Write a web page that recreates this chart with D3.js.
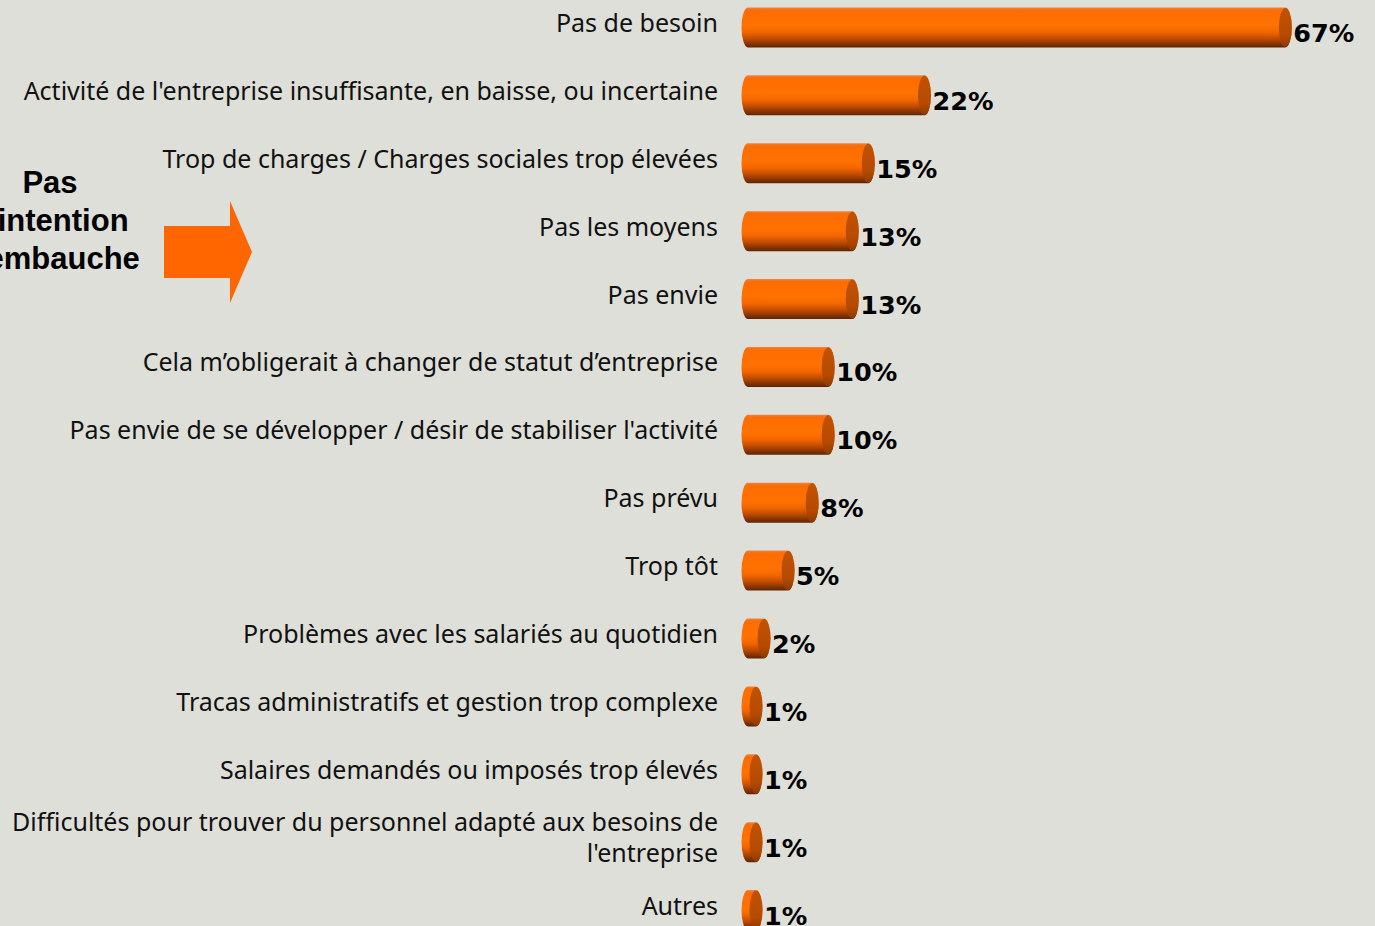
<!DOCTYPE html>
<html>
<head>
<meta charset="utf-8">
<script src="https://cdn.jsdelivr.net/npm/d3@7"></script>
<style>
  html, body { margin: 0; padding: 0; background: #dfdfd9; overflow: hidden; }
  svg { display: block; }
</style>
</head>
<body>
<div id="chart"></div>
<script>
const categories = [
  "Pas de besoin",
  "Activité de l'entreprise insuffisante, en baisse, ou incertaine",
  "Trop de charges / Charges sociales trop élevées",
  "Pas les moyens",
  "Pas envie",
  "Cela m’obligerait à changer de statut d’entreprise",
  "Pas envie de se développer / désir de stabiliser l'activité",
  "Pas prévu",
  "Trop tôt",
  "Problèmes avec les salariés au quotidien",
  "Tracas administratifs et gestion trop complexe",
  "Salaires demandés ou imposés trop élevés",
  "Difficultés pour trouver du personnel adapté aux besoins de\nl'entreprise",
  "Autres"
];
const values = [67, 22, 15, 13, 13, 10, 10, 8, 5, 2, 1, 1, 1, 1];
const sideTitle = ["Pas", "d'intention", "d'embauche"];

const W = 1375, H = 926;
const svg = d3.select("#chart").append("svg").attr("width", W).attr("height", H);

svg.append("rect").attr("width", W).attr("height", H).attr("fill", "#dfdfd9");

const x = d3.scaleLinear().domain([0, 100]).range([748, 1550]);
const y = d3.scalePoint().domain(categories).range([-6.5, 944]).padding(0.5);
const barH = 40, rx = 6.5;

// gradients
const defs = svg.append("defs");
const g1 = defs.append("linearGradient").attr("id", "body").attr("x1", 0).attr("x2", 0).attr("y1", 0).attr("y2", 1);
[[0, "#e8864a"], [0.06, "#ff6c00"], [0.45, "#ff7200"], [0.62, "#f26600"], [0.78, "#c04c00"], [0.9, "#8a3600"], [1, "#5e2400"]]
  .forEach(([o, c]) => g1.append("stop").attr("offset", o).attr("stop-color", c));
const g2 = defs.append("linearGradient").attr("id", "cap").attr("x1", 0).attr("x2", 0).attr("y1", 0).attr("y2", 1);
[[0, "#c25200"], [0.7, "#b54a00"], [1, "#8e3a00"]]
  .forEach(([o, c]) => g2.append("stop").attr("offset", o).attr("stop-color", c));

const rows = svg.selectAll(".row").data(categories).join("g").attr("class", "row");

rows.append("path")
  .attr("fill", "url(#body)")
  .attr("d", (d, i) => {
    const cy = y(d), top = cy - barH / 2, bot = cy + barH / 2;
    const x0 = x(0), x1 = x(values[i]);
    return `M${x0},${top} L${x1},${top} A${rx},${barH / 2} 0 0 1 ${x1},${bot} L${x0},${bot} A${rx},${barH / 2} 0 0 1 ${x0},${top} Z`;
  });

rows.append("ellipse")
  .attr("cx", (d, i) => x(values[i]))
  .attr("cy", d => y(d))
  .attr("rx", rx)
  .attr("ry", barH / 2 - 0.5)
  .attr("fill", "url(#cap)");

rows.append("text")
  .attr("x", (d, i) => x(values[i]) + rx + 1.5)
  .attr("y", d => y(d) + 14.5)
  .attr("font-family", "'DejaVu Sans', Verdana, sans-serif")
  .attr("font-weight", "bold")
  .attr("font-size", 25.5)
  .attr("fill", "#000")
  .text((d, i) => values[i] + "%");

const lab = rows.append("text")
  .attr("x", 718)
  .attr("text-anchor", "end")
  .attr("font-family", "'Noto Sans', 'DejaVu Sans', sans-serif")
  .attr("font-size", 25)
  .attr("fill", "#111");
lab.each(function(d) {
  const lines = d.split("\n");
  const t = d3.select(this);
  const base = y(d) + 4.5 - (lines.length - 1) * 15.5;
  lines.forEach((l, k) => t.append("tspan").attr("x", 718).attr("y", base + k * 31).text(l));
});

// side title and arrow
svg.append("g").selectAll("text").data(sideTitle).join("text")
  .attr("x", 50)
  .attr("y", (d, i) => 193 + i * 38)
  .attr("text-anchor", "middle")
  .attr("font-family", "'Liberation Sans', Arial, sans-serif")
  .attr("font-weight", "bold")
  .attr("font-size", 31)
  .attr("fill", "#000")
  .text(d => d);

svg.append("polygon")
  .attr("points", [[164, 226], [230, 226], [230, 201], [252, 252], [230, 303], [230, 278], [164, 278]].join(" "))
  .attr("fill", "#ff6600");
</script>
</body>
</html>
